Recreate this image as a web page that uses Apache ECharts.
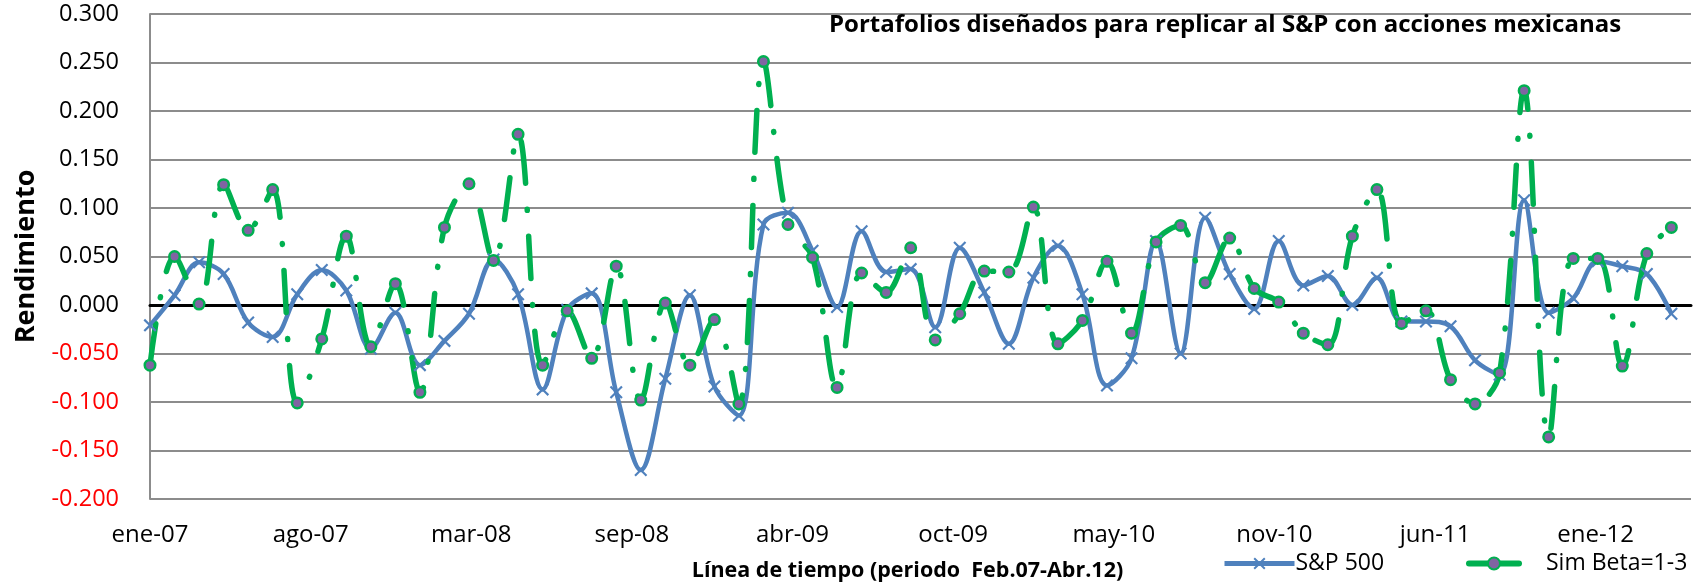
<!DOCTYPE html>
<html>
<head>
    <meta charset="utf-8"/>
    <title>ECharts</title>
    <script src="https://cdn.jsdelivr.net/npm/echarts@6.0.0/dist/echarts.min.js"></script>
    <style>
        body { margin: 0; background: #fff; }
    </style>
</head>
<body>
<div id="chart" style="width: 1698px;height:587px;"></div>
<script type="text/javascript">
    // meses feb-07 ... abr-12 (63 rendimientos mensuales)
    var months = [
        'feb-07', 'mar-07', 'abr-07', 'may-07', 'jun-07', 'jul-07', 'ago-07', 'sep-07', 'oct-07', 'nov-07', 'dic-07',
        'ene-08', 'feb-08', 'mar-08', 'abr-08', 'may-08', 'jun-08', 'jul-08', 'ago-08', 'sep-08', 'oct-08', 'nov-08', 'dic-08',
        'ene-09', 'feb-09', 'mar-09', 'abr-09', 'may-09', 'jun-09', 'jul-09', 'ago-09', 'sep-09', 'oct-09', 'nov-09', 'dic-09',
        'ene-10', 'feb-10', 'mar-10', 'abr-10', 'may-10', 'jun-10', 'jul-10', 'ago-10', 'sep-10', 'oct-10', 'nov-10', 'dic-10',
        'ene-11', 'feb-11', 'mar-11', 'abr-11', 'may-11', 'jun-11', 'jul-11', 'ago-11', 'sep-11', 'oct-11', 'nov-11', 'dic-11',
        'ene-12', 'feb-12', 'mar-12', 'abr-12'
    ];

    var sp500 = [
        -0.021, 0.010, 0.044, 0.032, -0.018, -0.033, 0.011, 0.036, 0.015, -0.045, -0.008,
        -0.062, -0.037, -0.009, 0.047, 0.011, -0.087, -0.005, 0.012, -0.090, -0.170, -0.076, 0.010,
        -0.084, -0.114, 0.083, 0.095, 0.056, -0.002, 0.076, 0.034, 0.037, -0.023, 0.059, 0.013,
        -0.040, 0.028, 0.061, 0.011, -0.083, -0.055, 0.066, -0.050, 0.090, 0.032, -0.004, 0.066,
        0.020, 0.030, 0.000, 0.028, -0.017, -0.017, -0.022, -0.057, -0.072, 0.108, -0.008, 0.007,
        0.045, 0.040, 0.032, -0.009
    ];

    var simBeta = [
        -0.062, 0.050, 0.001, 0.124, 0.077, 0.119, -0.101, -0.035, 0.071, -0.043, 0.022,
        -0.090, 0.080, 0.125, 0.046, 0.176, -0.062, -0.006, -0.055, 0.040, -0.098, 0.002, -0.062,
        -0.015, -0.102, 0.251, 0.083, 0.049, -0.085, 0.033, 0.013, 0.059, -0.036, -0.009, 0.035,
        0.034, 0.101, -0.040, -0.016, 0.045, -0.029, 0.065, 0.082, 0.023, 0.069, 0.017, 0.003,
        -0.029, -0.041, 0.071, 0.119, -0.019, -0.006, -0.077, -0.102, -0.070, 0.221, -0.136, 0.048,
        0.048, -0.063, 0.053, 0.080
    ];

    // etiquetas del eje de tiempo (eje de fechas de Excel, una cada ~199 dias)
    var timeLabels = ['ene-07', 'ago-07', 'mar-08', 'sep-08', 'abr-09', 'oct-09', 'may-10', 'nov-10', 'jun-11', 'ene-12'];
    var labelStep = 6.546;
    var xMax = 62.8;

    function toPoints(values) {
        return values.map(function (v, i) { return [i, v]; });
    }

    var xMark = 'path://M0,1.4L1.4,0L6,4.6L10.6,0L12,1.4L7.4,6L12,10.6L10.6,12L6,7.4L1.4,12L0,10.6L4.6,6Z';
    var font = 'Open Sans';

    var option = {
        animation: false,
        backgroundColor: '#fff',
        title: {
            text: 'Portafolios diseñados para replicar al S&P con acciones mexicanas',
            left: 829,
            top: 13,
            padding: 0,
            textStyle: { fontFamily: font, fontSize: 24, fontWeight: 'bold', color: '#000' }
        },
        legend: [
            {
                data: ['S&P 500'],
                left: 1222,
                top: 552,
                padding: 0,
                itemWidth: 70,
                itemHeight: 15,
                itemGap: 0,
                lineStyle: { width: 5 },
                textStyle: { fontFamily: font, fontSize: 23, color: '#000', padding: [0, 0, 0, -4] }
            },
            {
                data: ['Sim Beta=1-3'],
                left: 1466,
                top: 552,
                padding: 0,
                itemWidth: 50,
                itemHeight: 15,
                lineStyle: { width: 6, type: 'solid' },
                textStyle: { fontFamily: font, fontSize: 23, color: '#000', padding: [0, 0, 0, 22] }
            }
        ],
        grid: {
            left: 150,
            right: 7,
            top: 14,
            bottom: 87,
            containLabel: false
        },
        xAxis: [
            {
                type: 'value',
                min: 0,
                max: xMax,
                interval: labelStep,
                name: 'Línea de tiempo (periodo  Feb.07-Abr.12)',
                nameLocation: 'middle',
                nameGap: 61,
                nameTextStyle: {
                    fontFamily: font, fontSize: 21.5, fontWeight: 'bold', color: '#000',
                    padding: [0, 26, 0, 0]
                },
                axisLine: { show: false, onZero: false },
                axisTick: { show: false },
                splitLine: { show: false },
                axisLabel: {
                    showMaxLabel: false,
                    margin: 24,
                    fontFamily: font,
                    fontSize: 24,
                    color: '#000',
                    formatter: function (v) {
                        return timeLabels[Math.round(v / labelStep)] || '';
                    }
                }
            },
            {
                // linea del eje horizontal en cero
                type: 'value',
                min: 0,
                max: xMax,
                axisLine: { show: true, onZero: true, lineStyle: { color: '#000', width: 3 } },
                axisTick: { show: false },
                axisLabel: { show: false },
                splitLine: { show: false }
            }
        ],
        yAxis: {
            type: 'value',
            min: -0.2,
            max: 0.3,
            interval: 0.05,
            name: 'Rendimiento',
            nameLocation: 'middle',
            nameRotate: 90,
            nameGap: 110,
            nameTextStyle: { fontFamily: font, fontSize: 27, fontWeight: 'bold', color: '#000' },
            axisLine: { show: true, lineStyle: { color: '#8c8c8c', width: 2 } },
            axisTick: { show: false },
            splitLine: { lineStyle: { color: '#8c8c8c', width: 2 } },
            axisLabel: {
                margin: 31,
                fontFamily: font,
                fontSize: 23.5,
                color: function (v) { return Number(v) < 0 ? '#ff0000' : '#000'; },
                formatter: function (v) { return v.toFixed(3); }
            }
        },
        series: [
            {
                name: 'S&P 500',
                type: 'line',
                data: toPoints(sp500),
                smooth: 0.35,
                symbol: xMark,
                symbolSize: 13,
                itemStyle: { color: '#4f81bd', borderWidth: 0 },
                lineStyle: { color: '#4f81bd', width: 4.5 }
            },
            {
                name: 'Sim Beta=1-3',
                type: 'line',
                data: toPoints(simBeta),
                smooth: 0.35,
                symbol: 'circle',
                symbolSize: 10.5,
                itemStyle: { color: '#8064a2', borderColor: '#00b050', borderWidth: 2.5 },
                lineStyle: { color: '#00b050', width: 5.5, type: [42, 26, 1, 26], cap: 'round' }
            }
        ]
    };

    var chart = echarts.init(document.getElementById('chart'));
    chart.setOption(option);
</script>
</body>
</html>
